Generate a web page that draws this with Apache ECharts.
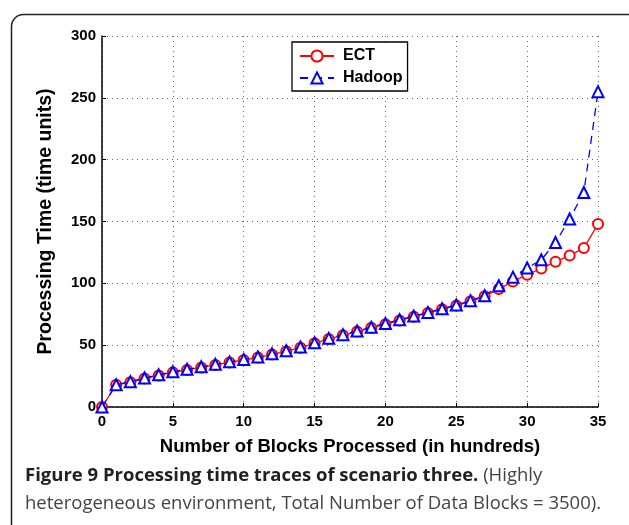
<!DOCTYPE html>
<html>
<head>
<meta charset="utf-8">
<script src="https://cdn.jsdelivr.net/npm/echarts@6/dist/echarts.min.js"></script>
<style>
  html, body { margin: 0; padding: 0; background: #fff; }
  #main { width: 629px; height: 525px; }
</style>
</head>
<body>
<div id="main"></div>
<script>
// blocks processed (hundreds)
var blocks = [0, 1, 2, 3, 4, 5, 6, 7, 8, 9, 10, 11, 12, 13, 14, 15, 16, 17, 18, 19, 20,
  21, 22, 23, 24, 25, 26, 27, 28, 29, 30, 31, 32, 33, 34, 35];
var ect = [0, 18, 20, 23, 25.5, 28, 30, 32, 34, 36, 38, 40, 42.5, 45, 48, 51.5, 55, 58, 61, 64, 67,
  70, 73, 76, 79, 82, 85.5, 89.5, 95.5, 101.5, 107, 112, 117.5, 122.5, 128.5, 148];
var hadoop = [0, 18, 20.5, 23.5, 26, 28.5, 30.5, 32.5, 34.5, 36.5, 38.5, 40.5, 43, 45.5, 48.5, 52, 55.5, 58.5, 61.5, 64.5, 67.5,
  70.5, 73.5, 76.5, 79.5, 82.5, 86, 90, 98, 105, 112.5, 119, 133, 152, 173.5, 255];

var chart = echarts.init(document.getElementById("main"));
var font = "Liberation Sans, Arial, Helvetica, sans-serif";
var capFont = "Open Sans, Noto Sans, sans-serif";

function pairs(ys) {
  return blocks.map(function (x, i) { return [x, ys[i]]; });
}

var option = {
  animation: false,
  backgroundColor: "#fff",
  grid: { left: 102, right: 31, top: 36, bottom: 118, containLabel: false },
  legend: {
    orient: "vertical",
    left: 292,
    top: 42,
    itemWidth: 34,
    itemHeight: 14,
    itemGap: 6,
    padding: [6, 5, 5, 7],
    borderColor: "#000",
    borderWidth: 1.3,
    backgroundColor: "#fff",
    textStyle: { fontFamily: font, fontWeight: "bold", fontSize: 16, color: "#000", padding: [0, 0, 0, 4] },
    data: ["ECT", "Hadoop"]
  },
  xAxis: {
    type: "value",
    min: 0,
    max: 35,
    interval: 5,
    name: "Number of Blocks Processed (in hundreds)",
    nameLocation: "middle",
    nameGap: 30,
    nameTextStyle: { fontFamily: font, fontWeight: "bold", fontSize: 18.5, color: "#000" },
    axisLine: { lineStyle: { color: "#000", width: 1.5 } },
    axisTick: { inside: true, length: 4, lineStyle: { color: "#000" } },
    axisLabel: { fontFamily: font, fontWeight: "bold", fontSize: 15, color: "#000", margin: 7 },
    splitLine: { show: true, lineStyle: { color: "#666", type: [1, 4], width: 1 } }
  },
  yAxis: {
    type: "value",
    min: 0,
    max: 300,
    interval: 50,
    name: "Processing Time (time units)",
    nameLocation: "middle",
    nameGap: 46,
    nameTextStyle: { fontFamily: font, fontWeight: "bold", fontSize: 19.5, color: "#000" },
    axisLine: { show: true, lineStyle: { color: "#000", width: 1.5 } },
    axisTick: { show: true, inside: true, length: 4, lineStyle: { color: "#000" } },
    axisLabel: { fontFamily: font, fontWeight: "bold", fontSize: 15, color: "#000", margin: 6 },
    splitLine: { show: true, lineStyle: { color: "#666", type: [1, 4], width: 1 } }
  },
  series: [
    {
      name: "ECT",
      type: "line",
      data: pairs(ect),
      symbol: "emptyCircle",
      symbolSize: 10,
      itemStyle: { color: "#ff0000", borderWidth: 1.3 },
      lineStyle: { color: "#ff0000", width: 1.3 },
      z: 2
    },
    {
      name: "Hadoop",
      type: "line",
      data: pairs(hadoop),
      symbol: "emptyTriangle",
      symbolSize: 11,
      itemStyle: { color: "#0000ff", borderWidth: 1.3 },
      lineStyle: { color: "#0000ff", width: 1.3, type: [8, 6] },
      z: 3
    }
  ],
  graphic: [
    {
      type: "rect",
      left: 9,
      top: 12,
      shape: { width: 640, height: 540, r: 12 },
      style: { fill: "none", stroke: "#222", lineWidth: 1.5 },
      z: -1
    },
    {
      type: "text",
      left: 25,
      top: 462,
      style: {
        text: "{b|Figure 9 Processing time traces of scenario three.} (Highly\nheterogeneous environment, Total Number of Data Blocks = 3500).",
        fontFamily: capFont,
        fontSize: 18.5,
        lineHeight: 28,
        fill: "#444",
        rich: {
          b: { fontFamily: capFont, fontWeight: "bold", fontSize: 18.5, fill: "#231f20" }
        }
      }
    }
  ]
};

option && chart.setOption(option);
</script>
</body>
</html>
